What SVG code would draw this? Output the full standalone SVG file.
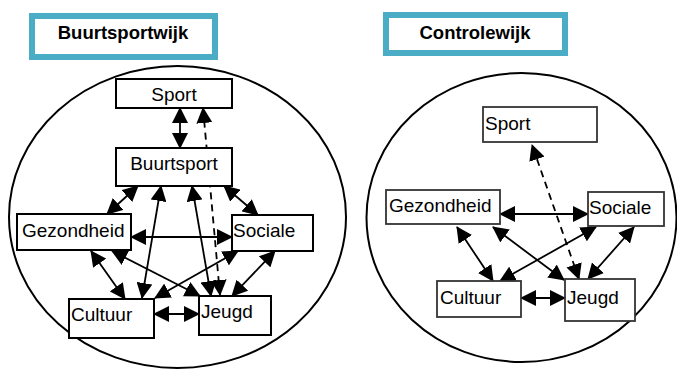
<svg xmlns="http://www.w3.org/2000/svg" width="677" height="369" viewBox="0 0 677 369">
<style>
.title{fill:#fff;stroke:#4BACC6;stroke-width:6}
.tt{font-family:"Liberation Sans",Arial,sans-serif;font-weight:bold;font-size:18.5px;fill:#000;text-anchor:middle}
.ring{fill:none;stroke:#000;stroke-width:2}
.box{fill:#fff;stroke:#000;stroke-width:2}
.rbox{fill:#fff;stroke:#333;stroke-width:1.8}
.lbl{font-family:"Liberation Sans",Arial,sans-serif;font-size:19px;fill:#000}
.c{stroke:#000;stroke-width:1.8;fill:none;marker-start:url(#ah);marker-end:url(#ah)}
.d{stroke-dasharray:7 5}
</style>
<defs>
<marker id="ah" viewBox="0 0 16 16" refX="15" refY="8" markerWidth="16" markerHeight="16" markerUnits="userSpaceOnUse" orient="auto-start-reverse">
<path d="M0,0 L16,8 L0,16 z" fill="#000"/>
</marker>
</defs>
<g id="title-left"><rect class="title" x="32" y="16" width="183" height="41"/><text class="tt" x="123" y="38.5">Buurtsportwijk</text></g>
<g id="title-right"><rect class="title" x="386" y="15" width="179" height="38"/><text class="tt" x="475" y="39">Controlewijk</text></g>
<g id="circles">
<ellipse class="ring" cx="177.5" cy="217" rx="168.5" ry="151"/>
<ellipse class="ring" cx="521.5" cy="217.5" rx="155" ry="144.5"/>
</g>
<g id="connectors">
<line class="c" x1="180" y1="108" x2="180" y2="148"/>
<line class="c d" x1="220" y1="295" x2="203" y2="108"/>
<line class="c" x1="138" y1="186" x2="107" y2="214"/>
<line class="c" x1="161" y1="186" x2="142" y2="298"/>
<line class="c" x1="192" y1="186" x2="211" y2="296"/>
<line class="c" x1="224" y1="186" x2="258" y2="215"/>
<line class="c" x1="131" y1="237" x2="232" y2="237"/>
<line class="c" x1="91" y1="251" x2="125" y2="299"/>
<line class="c" x1="112" y1="251" x2="200" y2="296"/>
<line class="c" x1="238" y1="251" x2="155" y2="298"/>
<line class="c" x1="275" y1="251" x2="232" y2="296"/>
<line class="c" x1="154" y1="314" x2="199" y2="314"/>
<line class="c" x1="500" y1="214" x2="588" y2="214"/>
<line class="c" x1="457" y1="227" x2="493" y2="281"/>
<line class="c" x1="493" y1="227" x2="564" y2="280"/>
<line class="c" x1="596" y1="227" x2="500" y2="281"/>
<line class="c" x1="634" y1="227" x2="588" y2="279"/>
<line class="c" x1="521" y1="298" x2="565" y2="298"/>
<line class="c d" x1="579" y1="279" x2="532" y2="145"/>
</g>
<g id="l-sport"><rect class="box" x="116" y="79" width="116" height="29"/><text class="lbl" x="174" y="101" text-anchor="middle">Sport</text></g>
<g id="l-buurtsport"><rect class="box" x="116" y="148" width="116" height="38"/><text class="lbl" x="174" y="170" text-anchor="middle">Buurtsport</text></g>
<g id="l-gezondheid"><rect class="box" x="17" y="214" width="114" height="36"/><text class="lbl" x="22" y="236.5">Gezondheid</text></g>
<g id="l-sociale"><rect class="box" x="232" y="215" width="81" height="36"/><text class="lbl" x="233" y="236.5">Sociale</text></g>
<g id="l-cultuur"><rect class="box" x="69" y="299" width="85" height="39"/><text class="lbl" x="71" y="320.5">Cultuur</text></g>
<g id="l-jeugd"><rect class="box" x="199" y="296" width="72" height="39"/><text class="lbl" x="201" y="318">Jeugd</text></g>
<g id="r-sport"><rect class="rbox" x="483" y="107" width="114" height="35" stroke-width="1.5"/><text class="lbl" x="485" y="130">Sport</text></g>
<g id="r-gezondheid"><rect class="rbox" x="386" y="190" width="114" height="34"/><text class="lbl" x="389" y="212">Gezondheid</text></g>
<g id="r-sociale"><rect class="rbox" x="588" y="192" width="76" height="34"/><text class="lbl" x="589" y="214">Sociale</text></g>
<g id="r-cultuur"><rect class="rbox" x="437" y="281" width="84" height="36"/><text class="lbl" x="440" y="304">Cultuur</text></g>
<g id="r-jeugd"><rect class="rbox" x="565" y="279" width="70" height="42"/><text class="lbl" x="567" y="304">Jeugd</text></g>
</svg>
